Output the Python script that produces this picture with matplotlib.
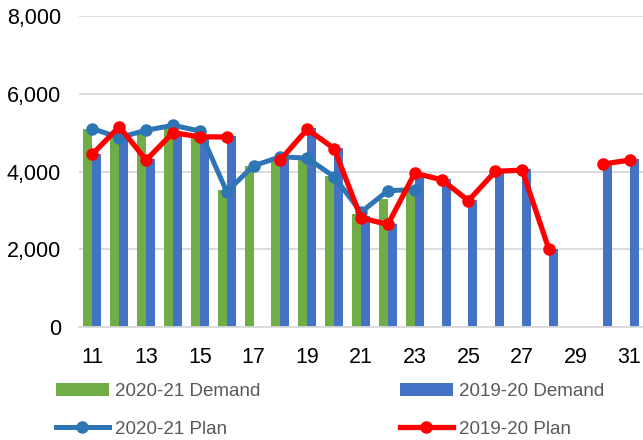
import matplotlib
matplotlib.use("Agg")
import matplotlib.pyplot as plt
import numpy as np

plt.rcParams['font.family'] = ['Liberation Sans', 'DejaVu Sans']

# day numbers on the x axis
days = list(range(11, 32))
nan = np.nan

demand_2021 = [5105, 5000, 4960, 5090, 4960, 3520, 4150, 4240, 4350, 3900, 2920, 3300, 3470,
               nan, nan, nan, nan, nan, nan, nan, nan]
demand_1920 = [4450, 4900, 4320, 5000, 4900, 4920, nan, 4320, 5130, 4620, 2870, 2660, 3850,
               3820, 3260, 4010, 4070, 2020, nan, 4240, 4320]
plan_2021 = [5105, 4875, 5064, 5190, 5046, 3486, 4151, 4381, 4348, 3870, 2957, 3511, 3537,
             nan, nan, nan, nan, nan, nan, nan, nan]
plan_1920 = [4450, 5156, 4297, 5003, 4893, 4893, nan, 4304, 5090, 4594, 2813, 2642, 3960,
             3793, 3256, 4006, 4040, 2000, nan, 4194, 4297]

green = "#70AD47"
blue_bar = "#4472C4"
blue_line = "#2E75B6"
red = "#FF0000"
grid_col = "#D9D9D9"

fig = plt.figure(figsize=(6.43, 4.40), dpi=100)
ax = fig.add_axes([79 / 643, 1 - 327.3 / 440, 1 - 79 / 643, (327.3 - 16) / 440])

x = np.arange(len(days))
w = 0.335
b1 = ax.bar(x - w / 2, demand_2021, width=w, color=green, zorder=2, label="2020-21 Demand")
b2 = ax.bar(x + w / 2, demand_1920, width=w, color=blue_bar, zorder=2, label="2019-20 Demand")
l1, = ax.plot(x, plan_2021, color=blue_line, lw=3.6, marker="o", ms=8, zorder=3,
              label="2020-21 Plan")
l2, = ax.plot(x, plan_1920, color=red, lw=3.8, marker="o", ms=8, zorder=4,
              label="2019-20 Plan")

ax.set_xlim(-0.5, len(days) - 0.5)
ax.set_ylim(0, 8000)
ax.set_yticks([0, 2000, 4000, 6000, 8000])
ax.set_yticklabels(["{:,}".format(v) for v in [0, 2000, 4000, 6000, 8000]])
ax.set_xticks(x[::2])
ax.set_xticklabels([str(d) for d in days[::2]])
ax.tick_params(axis="both", length=0, labelsize=15.5, colors="black")
ax.tick_params(axis="y", pad=13)
ax.tick_params(axis="x", pad=14)
ax.grid(axis="y", color=grid_col, lw=1.3, zorder=0)
ax.set_axisbelow(True)
for s in ["top", "right", "left"]:
    ax.spines[s].set_visible(False)
ax.spines["bottom"].set_color(grid_col)
ax.spines["bottom"].set_linewidth(1.3)

leg = fig.legend([b1, l1, b2, l2],
                 ["2020-21 Demand", "2020-21 Plan", "2019-20 Demand", "2019-20 Plan"],
                 ncol=2, loc="upper left", bbox_to_anchor=(56 / 643, 1 - 383 / 440),
                 frameon=False, fontsize=13.5, handlelength=2.8, handletextpad=0.35,
                 columnspacing=7.45, labelspacing=1.1, borderaxespad=0, borderpad=0)
for t in leg.get_texts():
    t.set_color("#595959")

fig.savefig("out.png", dpi=100)
